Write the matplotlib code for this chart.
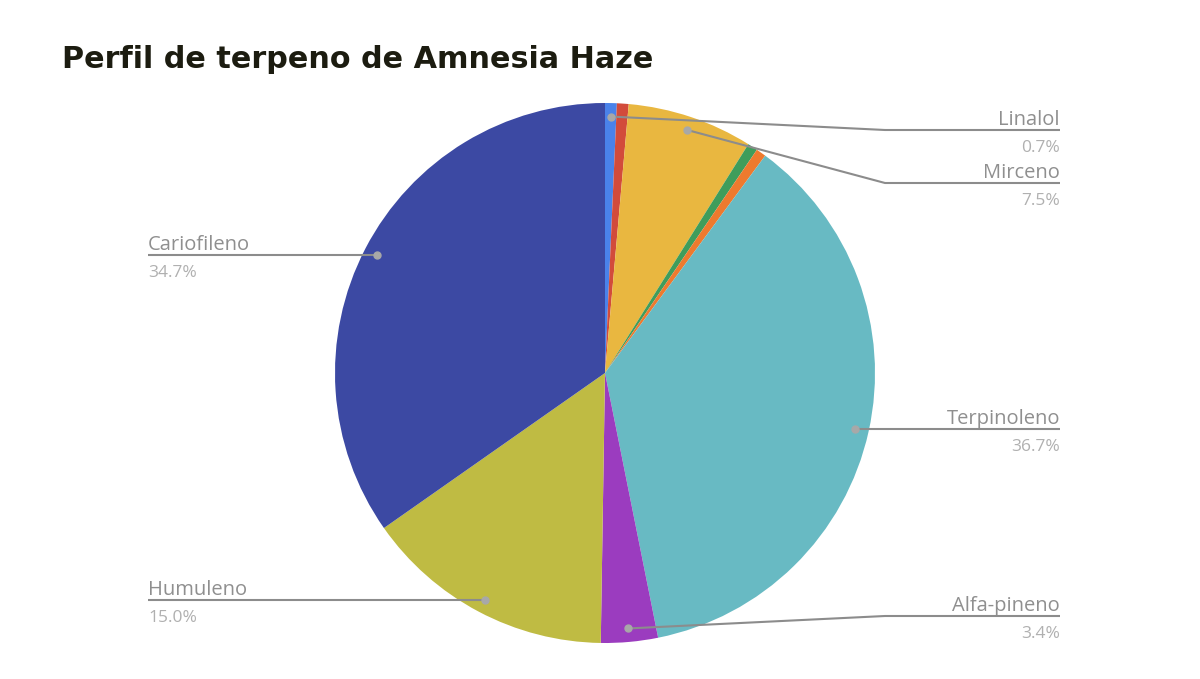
import matplotlib
matplotlib.use("Agg")
import matplotlib.pyplot as plt
import numpy as np

title = "Perfil de terpeno de Amnesia Haze"
categories = ["Linalol", "Ocimeno", "Mirceno", "Limoneno", "Pineno", "Terpinoleno",
              "Alfa-pineno", "Humuleno", "Cariofileno"]
values = [0.7, 0.7, 7.5, 0.6, 0.6, 36.7, 3.4, 15.0, 34.7]
shown = [True, False, True, False, False, True, True, True, True]
colors = ["#4a82ea", "#d24b3b", "#e9b740", "#3f9d5b", "#ee7a2e", "#68bac3",
          "#9b3cbf", "#bfbb43", "#3c49a3"]

# layout (pixel space, y from top)
W, H = 1200, 679
cx, cy, R = 605, 373, 270
label_y = {"Linalol": 130, "Mirceno": 183, "Terpinoleno": 430,
           "Alfa-pineno": 616, "Humuleno": 599, "Cariofileno": 254}
right_elbow, right_end, left_end = 885, 1060, 148

fig = plt.figure(figsize=(12, 6.79), dpi=100)
ax = fig.add_axes([0, 0, 1, 1])

wedges, _ = ax.pie(values, colors=colors, startangle=90, counterclock=False,
                   center=(cx, H - cy), radius=R,
                   wedgeprops=dict(linewidth=0))
ax.set_xlim(0, W)
ax.set_ylim(0, H)
ax.set_aspect("equal")
ax.axis("off")

line_col = "#8c8c8c"
name_col = "#8f8f8f"
pct_col = "#b0b0b0"
font = ["Open Sans", "DejaVu Sans"]
for w, name, v, s in zip(wedges, categories, values, shown):
    if not s:
        continue
    mid = np.deg2rad((w.theta1 + w.theta2) / 2)
    ax_x = cx + 0.95 * R * np.cos(mid)
    ax_y = (H - cy) + 0.95 * R * np.sin(mid)
    ly = H - label_y[name]
    ax.plot([ax_x], [ax_y], "o", color="#a8a8a8", ms=5, zorder=5)
    if ax_x > cx:
        if abs(ly - ax_y) < 3:
            xs, ys = [ax_x, right_end], [ax_y, ax_y]
            ly = ax_y
        else:
            xs, ys = [ax_x, right_elbow, right_end], [ax_y, ly, ly]
        ha, tx = "right", right_end
    else:
        xs, ys = [ax_x, left_end], [ax_y, ax_y]
        ly = ax_y
        ha, tx = "left", left_end
    ax.plot(xs, ys, color=line_col, lw=1.5, zorder=4, solid_capstyle="butt")
    ax.text(tx, ly + 5, name, ha=ha, va="baseline", fontsize=14.5, color=name_col,
            family=font)
    ax.text(tx, ly - 22, f"{v:.1f}%", ha=ha, va="baseline",
            fontsize=12.5, color=pct_col, family=font)

fig.text(62 / W, 1 - 60 / H, title, ha="left", va="center", fontsize=21.8,
         fontweight="bold", color="#1c1c10", family=["DejaVu Sans"])

fig.savefig("out.png", dpi=100, facecolor="white")
